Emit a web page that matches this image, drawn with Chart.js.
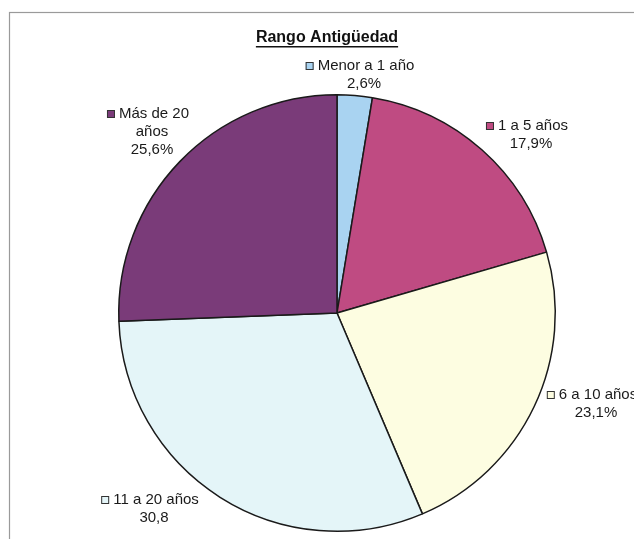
<!DOCTYPE html>
<html>
<head>
<meta charset="utf-8">
<script src="https://cdn.jsdelivr.net/npm/chart.js@4/dist/chart.umd.min.js"></script>
<style>
  body { margin: 0; background: #fff; }
  canvas { display: block; }
</style>
</head>
<body>
<canvas id="chart" width="634" height="539"></canvas>
<script>
// antigüedad del personal, en % del total
const categories = ['Menor a 1 año', '1 a 5 años', '6 a 10 años', '11 a 20 años', 'Más de 20 años'];
const values = [2.6, 17.9, 23.1, 30.8, 25.6];
const suffixes = ['%', '%', '%', '', '%'];
const colors = ['#a9d3f1', '#bf4b82', '#fdfde1', '#e4f5f8', '#7a3b79'];

// where each label block sits (center x, baseline-middle y of first line), and wrap width
const labelLayout = [
  { x: 360, y: 66, wrap: 0 },
  { x: 527, y: 126, wrap: 0 },
  { x: 592, y: 395, wrap: 0 },
  { x: 150, y: 500, wrap: 0 },
  { x: 148, y: 114, wrap: 90 }
];

const FONT = '15px "Liberation Sans", Arial, sans-serif';

function wrapText(ctx, text, maxW) {
  if (!maxW) return [text];
  const words = text.split(' ');
  const lines = [];
  let cur = '';
  words.forEach(w => {
    const t = cur ? cur + ' ' + w : w;
    if (cur && ctx.measureText(t).width > maxW) {
      lines.push(cur);
      cur = w;
    } else {
      cur = t;
    }
  });
  if (cur) lines.push(cur);
  return lines;
}

const decorations = {
  id: 'decorations',
  beforeDraw(chart) {
    const ctx = chart.ctx;
    ctx.save();
    // outer frame
    ctx.strokeStyle = '#9a9a9a';
    ctx.lineWidth = 1.2;
    ctx.strokeRect(9.5, 12.5, 700, 600);
    ctx.restore();
  },
  afterDraw(chart) {
    const ctx = chart.ctx;
    ctx.save();

    // title, bold and underlined
    ctx.font = 'bold 16px "Liberation Sans", Arial, sans-serif';
    ctx.fillStyle = '#111';
    ctx.textAlign = 'center';
    ctx.textBaseline = 'middle';
    const title = 'Rango Antigüedad';
    const tx = 327, ty = 38;
    ctx.fillText(title, tx, ty);
    const tw = ctx.measureText(title).width;
    ctx.fillRect(tx - tw / 2, ty + 8, tw, 1.5);

    // data labels: marker + category, then value
    ctx.font = FONT;
    const lh = 18;
    categories.forEach((cat, i) => {
      const lay = labelLayout[i];
      const lines = wrapText(ctx, cat, lay.wrap);
      const valText = values[i].toFixed(1).replace('.', ',') + suffixes[i];
      let y = lay.y;
      lines.forEach((ln, k) => {
        const w = ctx.measureText(ln).width;
        if (k === 0) {
          const box = 8, gap = 4;
          const total = box + gap + w;
          const x0 = lay.x - total / 2;
          ctx.fillStyle = colors[i];
          ctx.fillRect(x0, y - box / 2, box, box);
          ctx.strokeStyle = '#333';
          ctx.lineWidth = 1;
          ctx.strokeRect(x0 + 0.5, y - box / 2 + 0.5, box - 1, box - 1);
          ctx.fillStyle = '#1a1a1a';
          ctx.textAlign = 'left';
          ctx.fillText(ln, x0 + box + gap, y);
        } else {
          ctx.fillStyle = '#1a1a1a';
          ctx.textAlign = 'center';
          ctx.fillText(ln, lay.x + 4, y);
        }
        y += lh;
      });
      ctx.textAlign = 'center';
      ctx.fillStyle = '#1a1a1a';
      ctx.fillText(valText, lay.x + 4, y);
    });
    ctx.restore();
  }
};

new Chart(document.getElementById('chart').getContext('2d'), {
  type: 'pie',
  data: {
    labels: categories,
    datasets: [{
      data: values,
      backgroundColor: colors,
      borderColor: '#1a1a1a',
      borderWidth: 1.5
    }]
  },
  options: {
    responsive: false,
    animation: false,
    layout: { padding: { left: 118, right: 78, top: 94, bottom: 7 } },
    plugins: {
      legend: { display: false },
      tooltip: { enabled: false },
      title: { display: false }
    }
  },
  plugins: [decorations]
});
</script>
</body>
</html>
